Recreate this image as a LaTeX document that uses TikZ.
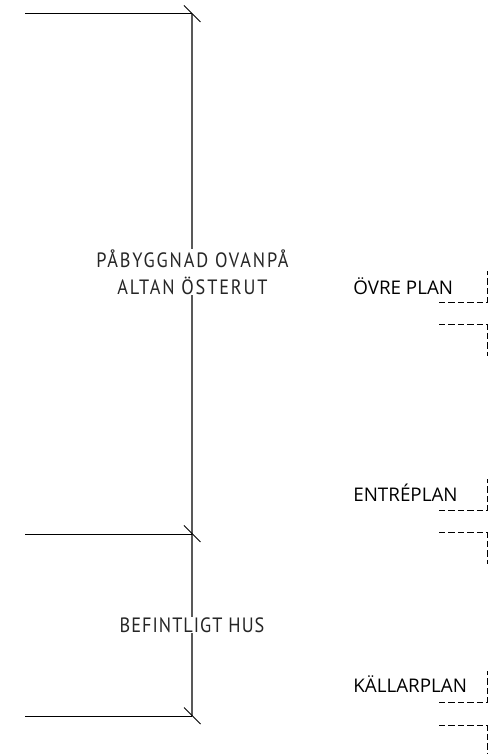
\documentclass[tikz,border=0pt]{standalone}
\usepackage{fontspec}
\setmainfont{Open Sans}
\newfontfamily\cadfont[LetterSpace=9,FakeStretch=0.88]{PT Sans}
\newfontfamily\cadtight[LetterSpace=5,FakeStretch=0.88]{PT Sans}
\usetikzlibrary{calc,positioning}
\tikzset{
    wall/.style={line width=0.55pt,black},
    axisline/.style={line width=0.9pt,black!65},
    slash/.style={line width=0.55pt,black},
    floorline/.style={line width=0.7pt,black,dash pattern=on 3.6pt off 1.8pt},
    heading/.style={text=black!85,fill=white,align=center,inner sep=0.5pt},
    planlabel/.style={font=\fontsize{10.7}{12}\selectfont,anchor=base west,inner sep=0pt},
}
\begin{document}
\begin{tikzpicture}
    \useasboundingbox (0,0) rectangle (9.88,15.08);
    % level marks on the left
    \coordinate (top) at (3.84,14.80);
    \coordinate (mid) at (3.84,4.40);
    \coordinate (low) at (3.84,0.76);
    \draw[axisline] (top) -- (low);
    \draw[wall] (0.5,14.80) -- (top);
    \draw[wall] (0.5,4.40) -- (mid);
    \draw[wall] (0.5,0.76) -- (low);
    \draw[slash] ($(top)+(-0.16,0.17)$) -- ($(top)+(0.17,-0.16)$);
    \draw[slash] ($(mid)+(-0.16,0.17)$) -- ($(mid)+(0.17,-0.16)$);
    \draw[slash] ($(low)+(-0.16,0.17)$) -- ($(low)+(0.17,-0.16)$);
    \node[heading,font=\cadfont\fontsize{11.8}{15.3}\selectfont] (upper) at (3.85,9.64) {PÅBYGGNAD OVANPÅ\\ALTAN ÖSTERUT};
    \node[heading,font=\cadtight\fontsize{11.8}{15.3}\selectfont] (house) at (3.84,2.58) {BEFINTLIGT HUS};
    % floors on the right
    \node[planlabel] (ovre) at (7.06,9.18) {ÖVRE PLAN};
    \draw[floorline] (8.78,9.03) -- (9.75,9.03) -- (9.75,9.66);
    \draw[floorline] (8.78,8.59) -- (9.75,8.59) -- (9.75,7.95);
    \node[planlabel] (entre) at (7.06,5.05) {ENTRÉPLAN};
    \draw[floorline] (8.78,4.87) -- (9.75,4.87) -- (9.75,5.50);
    \draw[floorline] (8.78,4.43) -- (9.75,4.43) -- (9.75,3.80);
    \node[planlabel] (kallar) at (7.06,1.23) {KÄLLARPLAN};
    \draw[floorline] (8.78,1.03) -- (9.75,1.03) -- (9.75,1.65);
    \draw[floorline] (8.78,0.57) -- (9.75,0.57) -- (9.75,0);
\end{tikzpicture}
\end{document}
